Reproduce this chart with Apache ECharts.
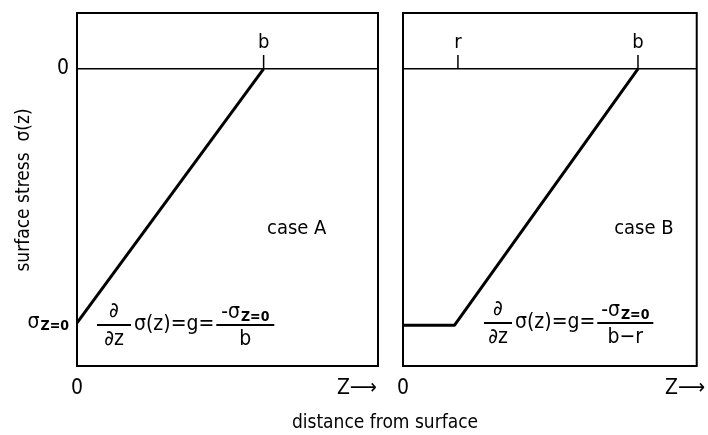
<!DOCTYPE html>
<html><head><meta charset="utf-8">
<script src="https://cdn.jsdelivr.net/npm/echarts@6/dist/echarts.min.js"></script>
<style>html,body{margin:0;padding:0;background:#fff}#c{width:708px;height:435px}</style>
</head><body><div id="c"></div>
<script>
const F = '"DejaVu Sans Condensed","Liberation Sans Narrow",sans-serif';
// ---- data ----
const zRange = [0, 10];
const stressRange = [-11.7, 2.2];
const caseA_z = [0, 6.2];
const caseA_s = [-10, 0];
const caseB_z = [0, 1.75, 8.0];
const caseB_s = [-10.1, -10.1, 0];
const marksA = [{name: 'b', z: 6.2}];
const marksB = [{name: 'r', z: 1.87}, {name: 'b', z: 8.0}];
const markHeight = 0.55;
const yTicks = [0, -10];
const yTickLabels = ['0', 'σ{sub|Z=0}'];
const xTicksA = [0, 9.3];
const xTicksB = [0, 9.6];
const xTickLabels = ['0', 'Z⟶'];
const caseLabels = [{text: 'case A', z: 7.3, s: -6.3}, {text: 'case B', z: 8.2, s: -6.3}];
const yTitle = 'surface stress  σ(z)';
const xTitle = 'distance from surface';

const chart = echarts.init(document.getElementById('c'), null, {renderer: 'canvas'});
const black = '#000';
const measureCtx = document.createElement('canvas').getContext('2d');
function textW(t, size) { measureCtx.font = size + 'px ' + F; return measureCtx.measureText(t).width; }

function xAxis(i, ticks) {
  return {
    type: 'value', gridIndex: i, min: zRange[0], max: zRange[1],
    axisLine: {show: false}, axisTick: {show: false}, splitLine: {show: false},
    axisLabel: {
      show: true, customValues: ticks, margin: 12, color: black,
      fontFamily: F, fontSize: 21,
      formatter: v => v === 0 ? xTickLabels[0] : xTickLabels[1]
    }
  };
}
function yAxis(i, withLabels) {
  const ax = {
    type: 'value', gridIndex: i, min: stressRange[0], max: stressRange[1],
    axisLine: {show: false}, axisTick: {show: false}, splitLine: {show: false},
    axisLabel: {show: false}
  };
  if (withLabels) {
    ax.axisLabel = {
      show: true, customValues: yTicks, margin: 8, color: black, fontFamily: F, fontSize: 21,
      formatter: v => v === 0 ? yTickLabels[0] : yTickLabels[1],
      rich: {sub: {fontFamily: F, fontSize: 14, fontWeight: 'bold', verticalAlign: 'bottom', padding: [8, 0, 0, 1], color: black}}
    };
  }
  return ax;
}
const lineStyleThin = {color: black, width: 1.5};
const hiddenItem = {color: 'rgba(0,0,0,0)'};
const labelText = {color: black, fontFamily: F, fontSize: 20, textBorderWidth: 0, opacity: 1};
function markSeries(i, marks) {
  const out = [];
  marks.forEach(m => {
    out.push({type: 'line', xAxisIndex: i, yAxisIndex: i, symbol: 'none', silent: true,
      data: [[m.z, 0], [m.z, markHeight]], lineStyle: lineStyleThin});
    out.push({type: 'scatter', xAxisIndex: i, yAxisIndex: i, symbolSize: 2, silent: true,
      itemStyle: hiddenItem,
      data: [[m.z, markHeight]],
      label: Object.assign({show: true, position: 'top', distance: 1, formatter: m.name}, labelText)});
  });
  return out;
}
const series = [
  {type: 'line', xAxisIndex: 0, yAxisIndex: 0, symbol: 'none', data: [[zRange[0], 0], [zRange[1], 0]], lineStyle: lineStyleThin},
  {type: 'line', xAxisIndex: 1, yAxisIndex: 1, symbol: 'none', data: [[zRange[0], 0], [zRange[1], 0]], lineStyle: lineStyleThin},
  {type: 'line', xAxisIndex: 0, yAxisIndex: 0, symbol: 'none', data: caseA_z.map((z, k) => [z, caseA_s[k]]), lineStyle: {color: black, width: 3}},
  {type: 'line', xAxisIndex: 1, yAxisIndex: 1, symbol: 'none', data: caseB_z.map((z, k) => [z, caseB_s[k]]), lineStyle: {color: black, width: 3}},
  ...markSeries(0, marksA),
  ...markSeries(1, marksB),
  ...caseLabels.map((c, i) => ({type: 'scatter', xAxisIndex: i, yAxisIndex: i, symbolSize: 2, silent: true,
    itemStyle: hiddenItem, data: [[c.z, c.s]],
    label: Object.assign({show: true, position: 'inside', formatter: c.text}, labelText)}))
];

function formula(x0, y0, denom, fracW, leftW) {
  const fs = 21;
  const ts = {fontFamily: F, fontSize: fs, fill: black};
  const els = [];
  const dx = x0 + leftW / 2;
  els.push({type: 'text', x: dx, y: y0 - 13, style: Object.assign({text: '∂', align: 'center', verticalAlign: 'middle'}, ts)});
  els.push({type: 'line', shape: {x1: x0, y1: y0, x2: x0 + leftW, y2: y0}, style: {stroke: black, lineWidth: 2}});
  els.push({type: 'text', x: dx, y: y0 + 15, style: Object.assign({text: '∂z', align: 'center', verticalAlign: 'middle'}, ts)});
  const mid = 'σ(z)=g=';
  els.push({type: 'text', x: x0 + leftW + 3, y: y0, style: Object.assign({text: mid, align: 'left', verticalAlign: 'middle'}, ts)});
  const fx = x0 + leftW + 3 + textW(mid, fs) + 2;
  els.push({type: 'line', shape: {x1: fx, y1: y0, x2: fx + fracW, y2: y0}, style: {stroke: black, lineWidth: 2}});
  els.push({type: 'text', x: fx + fracW / 2, y: y0 - 12, style: Object.assign({text: '-σ{sub|Z=0}', align: 'center', verticalAlign: 'middle',
    rich: {sub: {fontFamily: F, fontSize: 14, fontWeight: 'bold', padding: [8, 0, 0, 1]}}}, ts)});
  els.push({type: 'text', x: fx + fracW / 2, y: y0 + 15, style: Object.assign({text: denom, align: 'center', verticalAlign: 'middle'}, ts)});
  return els;
}

chart.setOption({
  animation: false,
  backgroundColor: '#fff',
  grid: [
    {left: 77, top: 13, width: 301, height: 353, show: true, borderColor: black, borderWidth: 2, backgroundColor: 'transparent'},
    {left: 403, top: 13, width: 299, height: 353, show: true, borderColor: black, borderWidth: 2, backgroundColor: 'transparent'}
  ],
  xAxis: [xAxis(0, xTicksA), xAxis(1, xTicksB)],
  yAxis: [yAxis(0, true), yAxis(1, false)],
  series: series,
  graphic: [
    ...formula(97, 325, 'b', 58, 34),
    ...formula(484, 323, 'b−r', 56, 28),
    {type: 'text', x: 24, y: 190, rotation: Math.PI / 2, style: {text: yTitle, align: 'center', verticalAlign: 'middle', fontFamily: F, fontSize: 19, fill: black}},
    {type: 'text', x: 385, y: 423, style: {text: xTitle, align: 'center', verticalAlign: 'middle', fontFamily: F, fontSize: 19, fill: black}}
  ]
});
</script></body></html>
